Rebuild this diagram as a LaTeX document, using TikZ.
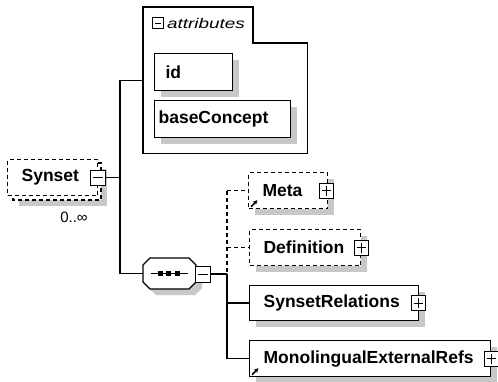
\documentclass[tikz,border=0pt]{standalone}
\usepackage{fontspec}
\newfontfamily\diagfont{Liberation Sans}
\newfontfamily\attrfont[FakeStretch=1.35]{Liberation Sans}
\usetikzlibrary{calc,shadows,arrows.meta}
\definecolor{shadowgrey}{RGB}{200,200,200}
\tikzset{
	elem/.style={draw, fill=white, line width=1.2pt, inner xsep=14pt, inner ysep=0pt, align=left, anchor=north west, font=\diagfont\bfseries\fontsize{17.5}{20}\selectfont},
	opt/.style={dash pattern=on 4pt off 3pt},
	shadowed/.style={drop shadow={shadow xshift=6pt, shadow yshift=-6pt, fill=shadowgrey, opacity=1}},
	pmbox/.style={draw, fill=white, line width=1pt, minimum width=14pt, minimum height=15pt, inner sep=0pt},
	minusbox/.style={pmbox, path picture={\draw[line width=1pt] ([xshift=2.5pt]path picture bounding box.west) -- ([xshift=-2.5pt]path picture bounding box.east);}},
	plusbox/.style={pmbox, path picture={\draw[line width=1pt] ([xshift=2.5pt]path picture bounding box.west) -- ([xshift=-2.5pt]path picture bounding box.east); \draw[line width=1pt] ([yshift=-2.5pt]path picture bounding box.north) -- ([yshift=2.5pt]path picture bounding box.south);}},
	wire/.style={line width=1.3pt},
	refarrow/.style={-{Stealth[length=4.5pt,width=4.5pt]}, line width=1.6pt}
}

\begin{document}
\begin{tikzpicture}[x=1pt, y=-1pt]
		%%%%% START %%%%%
		\useasboundingbox (0,0) rectangle (498,381);
		
		% the element itself, stacked since it repeats
		\draw[opt, line width=1.2pt, fill=white, shadowed] (13,163) rectangle (101,200);
		\node[elem, opt, text width=62pt, minimum height=36pt] (syn) at (7,159) {Synset};
		\node[minusbox, minimum width=15pt] (synpm) at ([xshift=-0.5pt]syn.east) {};
		\node[font=\diagfont\fontsize{15}{17}\selectfont] (synocc) at (74,217) {0..∞};
		
		% attributes group
		\node[draw=none, minimum width=164pt, minimum height=146pt, anchor=north west, inner sep=0pt] (attrs) at (143,7) {};
		\draw[line width=1.2pt] (attrs.north west) -- ([xshift=110pt]attrs.north west) -- ([xshift=110pt, yshift=-36pt]attrs.north west) -- ([yshift=-36pt]attrs.north east) -- (attrs.south east) -- (attrs.south west) -- cycle;
		\node[minusbox, minimum width=11pt, minimum height=11pt, line width=0.9pt] (attrpm) at (158,23) {};
		\node[anchor=west, inner xsep=3pt, font=\attrfont\itshape\fontsize{14}{16}\selectfont] (attrlbl) at (attrpm.east) {attributes};
		\node[elem, shadowed, inner xsep=11pt, text width=56pt, minimum height=37pt] (id) at (154,53) {id};
		\node[elem, shadowed, inner xsep=4pt, text width=128pt, minimum height=37pt] (base) at (154,100) {baseConcept};
		
		% sequence
		\begin{scope}[shift={(6,6)}]
			\fill[shadowgrey] (143,265) -- (150,258) -- (189,258) -- (196,265) -- (196,282) -- (189,289) -- (150,289) -- (143,282) -- cycle;
		\end{scope}
		\draw[line width=1.2pt, fill=white] (143,265) -- (150,258) -- (189,258) -- (196,265) -- (196,282) -- (189,289) -- (150,289) -- (143,282) -- cycle;
		\node[draw=none, minimum width=53pt, minimum height=31pt, inner sep=0pt] (seq) at (169.5,273.5) {};
		\draw[line width=1pt] (151,273.5) -- (188,273.5);
		\foreach \x in {160,168.5,177}
			\fill (\x-2.5,271) rectangle (\x+2.5,276);
		\node[minusbox, minimum width=15pt, minimum height=16pt] (seqpm) at (203,274) {};
		
		% children
		\node[elem, opt, shadowed, text width=51pt, minimum height=36pt] (meta) at (248,172) {Meta};
		\node[plusbox] (metapm) at ([xshift=-1.5pt]meta.east) {};
		\node[elem, opt, shadowed, text width=83pt, minimum height=36pt] (def) at (249,229) {Definition};
		\node[plusbox] (defpm) at (def.east) {};
		\node[elem, shadowed, text width=141pt, minimum height=35pt] (rel) at (249,285) {SynsetRelations};
		\node[plusbox] (relpm) at ([xshift=-0.5pt]rel.east) {};
		\node[elem, shadowed, text width=213pt, minimum height=36pt] (mono) at (249,340) {MonolingualExternalRefs};
		\node[plusbox] (monopm) at ([xshift=0.5pt]mono.east) {};
		\draw[refarrow] ([xshift=3pt, yshift=2.5pt]meta.south west) -- ++(6.5,-6.5);
		\draw[refarrow] ([xshift=3pt, yshift=2.5pt]mono.south west) -- ++(6.5,-6.5);
		
		% connectors
		\coordinate (busa) at (120,0);
		\coordinate (busb) at (227,0);
		\draw[wire] (synpm.east) -- (synpm.east -| busa);
		\draw[wire] (busa |- attrs.west) -- (attrs.west);
		\draw[wire] (busa |- attrs.west) -- (busa |- seq.west);
		\draw[wire] (busa |- seq.west) -- (seq.west);
		\draw[wire] (seqpm.east) -- (seqpm.east -| busb);
		\draw[wire, opt] (busb |- meta.west) -- (meta.west);
		\draw[wire, opt] (busb |- meta.west) -- (busb |- seqpm.east);
		\draw[wire, opt] (busb |- def.west) -- (def.west);
		\draw[wire] (busb |- seqpm.east) -- (busb |- mono.west);
		\draw[wire] (busb |- rel.west) -- (rel.west);
		\draw[wire] (busb |- mono.west) -- (mono.west);
		
		%%%%% END %%%%%
	\end{tikzpicture}
\end{document}
